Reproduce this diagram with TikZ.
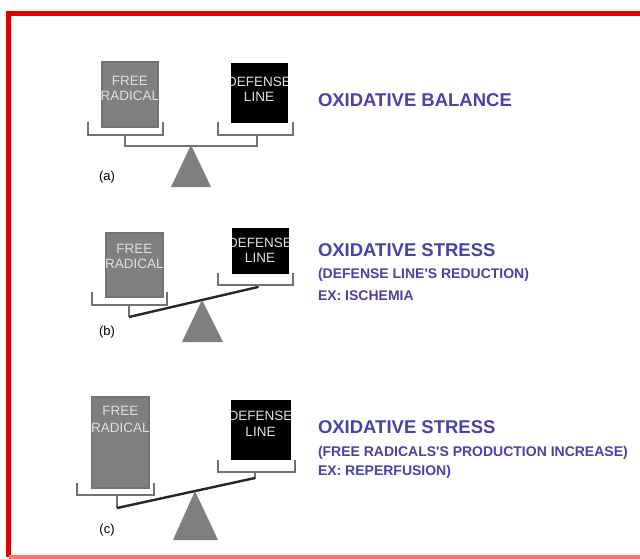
\documentclass[tikz,border=0pt]{standalone}
\usepackage{fontspec}
\setmainfont{Liberation Sans}
\usetikzlibrary{calc}
\definecolor{OxBlue}{HTML}{4A42A6}
\definecolor{FRGray}{HTML}{7F7F7F}
\definecolor{TrayGray}{HTML}{727272}

\begin{document}
\begin{tikzpicture}[x=1pt,y=-1pt,line width=2pt,
 every node/.style={inner sep=0pt},
 tray/.style={draw=TrayGray,line width=2pt},
 beam/.style={draw=black!85,line width=2.4pt},
 fulcrum/.style={fill=FRGray,draw=none},
 frbox/.style={fill=FRGray,draw=black!55,line width=1.5pt},
 dlbox/.style={fill=black,draw=black,line width=1pt},
 boxtext/.style={font=\fontsize{13.5}{15}\selectfont,align=center,anchor=north,text=black!12},
 head/.style={font=\bfseries\fontsize{18.5}{20}\selectfont,text=OxBlue,anchor=west},
 sub/.style={font=\bfseries\fontsize{14}{16}\selectfont,text=OxBlue,anchor=west},
 tag/.style={font=\fontsize{13}{14}\selectfont}]
\useasboundingbox (0,0) rectangle (640,559);
\fill[white] (0,0) rectangle (640,559);
\draw[red!90!black,line width=5pt] (640,14) -- (8.5,14) -- (8.5,557);
\draw[red!55,line width=4pt] (8.5,557) -- (640,557);
% (a) balance
\begin{scope}
 \draw[frbox] (102,62) rectangle (158,127);
 \node[boxtext] (frA) at (130,75.5) {FREE\\RADICAL};
 \draw[dlbox] (231,64) rectangle (287,123);
 \begin{scope}
  \clip (231,64) rectangle (287,123);
  \node[boxtext] (dlA) at (259,76) {DEFENSE\\LINE};
 \end{scope}
 \draw[tray] (88,122) -- (88,135) -- (163,135) -- (163,122);
 \draw[tray] (218,122) -- (218,135) -- (293,135) -- (293,122);
 \draw[tray] (125,135) -- (125,146) -- (257,146) -- (257,135);
 \fill[fulcrum] (191,145) -- (211,187) -- (171,187) -- cycle;
 \node[tag] (tagA) at (107,177) {(a)};
 \node[head] (hA) at (317,100) {OXIDATIVE BALANCE};
\end{scope}
% (b) defense line's reduction
\begin{scope}
 \draw[frbox] (106,233) rectangle (163,297);
 \node[boxtext] (frB) at (134.5,243) {FREE\\RADICAL};
 \draw[dlbox] (232,228) rectangle (288,273);
 \begin{scope}
  \clip (232,228) rectangle (288,273);
  \node[boxtext] (dlB) at (260,237) {DEFENSE\\LINE};
 \end{scope}
 \draw[tray] (92,292) -- (92,305) -- (167,305) -- (167,292);
 \draw[tray] (218,273) -- (218,285) -- (293,285) -- (293,273);
 \draw[tray] (129,305) -- (129,317);
 \draw[tray] (258,285) -- (258,288);
 \draw[beam] (129,317) -- (258,287);
 \fill[fulcrum] (202,300) -- (223,342) -- (182,342) -- cycle;
 \node[tag] (tagB) at (107,332) {(b)};
 \node[head] (hB) at (317,250) {OXIDATIVE STRESS};
 \node[sub] (sB1) at (317,275) {(DEFENSE LINE\textquotesingle S REDUCTION)};
 \node[sub] (sB2) at (317,296) {EX: ISCHEMIA};
\end{scope}
% (c) free radicals' production increase
\begin{scope}
 \draw[frbox] (92,397) rectangle (149,488);
 \node[boxtext] (frC) at (120.5,405) {FREE\\[2pt]RADICAL};
 \draw[dlbox] (231,400) rectangle (290,459);
 \begin{scope}
  \clip (231,400) rectangle (290,459);
  \node[boxtext] (dlC) at (260.5,410) {DEFENSE\\[1pt]LINE};
 \end{scope}
 \draw[tray] (77,483) -- (77,495) -- (154,495) -- (154,483);
 \draw[tray] (218,460) -- (218,472) -- (295,472) -- (295,460);
 \draw[tray] (117,495) -- (117,508);
 \draw[tray] (255,472) -- (255,479);
 \draw[beam] (117,508) -- (255,478);
 \fill[fulcrum] (195,491) -- (218,540) -- (173,540) -- cycle;
 \node[tag] (tagC) at (107,530) {(c)};
 \node[head] (hC) at (317,427) {OXIDATIVE STRESS};
 \node[sub] (sC1) at (317,453) {(FREE RADICALS\textquotesingle S PRODUCTION INCREASE)};
 \node[sub] (sC2) at (317,472) {EX: REPERFUSION)};
\end{scope}
\end{tikzpicture}
\end{document}
